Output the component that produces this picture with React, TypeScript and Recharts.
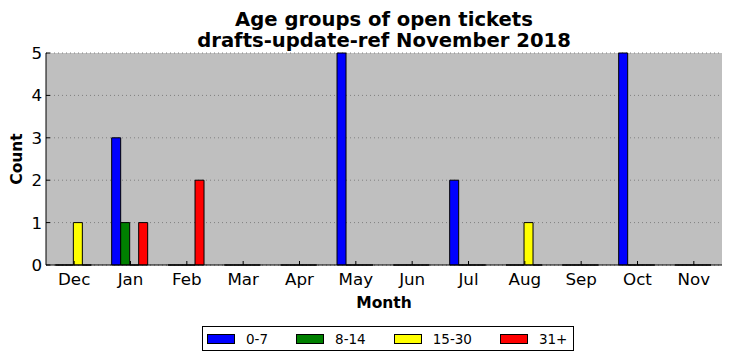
import React from "react";
import {
  BarChart,
  Bar,
  XAxis,
  YAxis,
  CartesianGrid,
  Label,
} from "recharts";

const months = ["Dec", "Jan", "Feb", "Mar", "Apr", "May", "Jun", "Jul", "Aug", "Sep", "Oct", "Nov"];
const age0to7 = [0, 3, 0, 0, 0, 5, 0, 2, 0, 0, 5, 0];
const age8to14 = [0, 1, 0, 0, 0, 0, 0, 0, 0, 0, 0, 0];
const age15to30 = [1, 0, 0, 0, 0, 0, 0, 0, 1, 0, 0, 0];
const age31plus = [0, 1, 2, 0, 0, 0, 0, 0, 0, 0, 0, 0];
const yTicks = [0, 1, 2, 3, 4, 5];

const series = [
  { key: "a", name: "0-7", color: "#0000ff", values: age0to7 },
  { key: "b", name: "8-14", color: "#008000", values: age8to14 },
  { key: "c", name: "15-30", color: "#ffff00", values: age15to30 },
  { key: "d", name: "31+", color: "#ff0000", values: age31plus },
];

const data = months.map((m, i) => {
  const row: Record<string, string | number> = { month: m };
  series.forEach((s) => (row[s.key] = s.values[i]));
  return row;
});

const FONT = "'DejaVu Sans', sans-serif";

// bars with black edge, zero-height ones still show as a flat line
const BarShape = (p: any) => {
  const { x, y, width, height, fill } = p;
  if (x == null || y == null) return null;
  const h = Math.max(height || 0, 0);
  return (
    <path
      d={`M${x},${y}h${width}v${h}h${-width}Z`}
      fill={fill}
      stroke="#000"
      strokeWidth={1}
    />
  );
};

const BottomTick = ({ x, y, payload }: any) => (
  <g>
    <line x1={x} y1={y} x2={x} y2={y - 4} stroke="#000" />
    <text x={x} y={y + 20} textAnchor="middle" fontSize={16.7} fontFamily={FONT} fill="#000">
      {payload.value}
    </text>
  </g>
);

const TopTick = ({ x, y }: any) => <line x1={x} y1={y} x2={x} y2={y + 4} stroke="#000" />;

const LeftTick = ({ x, y, payload }: any) => (
  <g>
    <line x1={x} y1={y} x2={x + 4} y2={y} stroke="#000" />
    <text x={x - 4} y={y + 6} textAnchor="end" fontSize={16.7} fontFamily={FONT} fill="#000">
      {payload.value}
    </text>
  </g>
);

const RightTick = ({ x, y }: any) => <line x1={x} y1={y} x2={x - 4} y2={y} stroke="#000" />;

export default function App() {
  return (
    <div style={{ position: "absolute", left: 0, top: 0, width: 732, height: 361, background: "#fff" }}>
      <div
        style={{
          position: "absolute",
          left: 46,
          top: 9,
          width: 676,
          textAlign: "center",
          fontFamily: FONT,
          fontWeight: "bold",
          fontSize: 19.6,
          lineHeight: "21px",
          color: "#000",
        }}
      >
        Age groups of open tickets
        <br />
        drafts-update-ref November 2018
      </div>
      <BarChart
        width={732}
        height={361}
        data={data}
        margin={{ top: 53, right: 10, left: 0, bottom: 0 }}
        barCategoryGap="16.6%"
        barGap={0}
      >
        <CartesianGrid
          vertical={false}
          fill="#bfbfbf"
          stroke="#808080"
          strokeDasharray="1 3"
        />
        <XAxis
          dataKey="month"
          height={96}
          interval={0}
          tickSize={0}
          tickMargin={0}
          tickLine={false}
          axisLine={{ stroke: "#000" }}
          tick={<BottomTick />}
        >
          <Label
            content={({ viewBox }: any) => (
              <text
                x={viewBox.x + viewBox.width / 2}
                y={viewBox.y + 43}
                textAnchor="middle"
                fontFamily={FONT}
                fontWeight="bold"
                fontSize={15.5}
                fill="#000"
              >
                Month
              </text>
            )}
          />
        </XAxis>
        <XAxis
          xAxisId="top"
          dataKey="month"
          orientation="top"
          height={0}
          interval={0}
          tickSize={0}
          tickMargin={0}
          tickLine={false}
          axisLine={{ stroke: "#000" }}
          tick={<TopTick />}
        />
        <YAxis
          width={46}
          domain={[0, 5]}
          ticks={yTicks}
          tickSize={0}
          tickMargin={0}
          tickLine={false}
          axisLine={{ stroke: "#000" }}
          tick={<LeftTick />}
        >
          <Label
            content={({ viewBox }: any) => {
              const cx = 22;
              const cy = viewBox.y + viewBox.height / 2;
              return (
                <text
                  x={cx}
                  y={cy}
                  transform={`rotate(-90, ${cx}, ${cy})`}
                  textAnchor="middle"
                  fontFamily={FONT}
                  fontWeight="bold"
                  fontSize={15.5}
                  fill="#000"
                >
                  Count
                </text>
              );
            }}
          />
        </YAxis>
        <YAxis
          yAxisId="right"
          orientation="right"
          width={0}
          domain={[0, 5]}
          ticks={yTicks}
          tickSize={0}
          tickMargin={0}
          tickLine={false}
          axisLine={{ stroke: "#000" }}
          tick={<RightTick />}
        />
        {series.map((s) => (
          <Bar
            key={s.key}
            dataKey={s.key}
            name={s.name}
            fill={s.color}
            isAnimationActive={false}
            shape={<BarShape />}
          />
        ))}
      </BarChart>
      <div
        style={{
          position: "absolute",
          left: 202,
          top: 326,
          height: 23,
          display: "flex",
          alignItems: "center",
          border: "1px solid #000",
          padding: "0 6px 0 4px",
          fontFamily: FONT,
          fontSize: 13.5,
          background: "#fff",
        }}
      >
        {series.map((s, i) => (
          <div
            key={s.key}
            style={{ display: "flex", alignItems: "center", marginRight: i < series.length - 1 ? 28 : 0 }}
          >
            <div
              style={{
                width: 26,
                height: 8,
                background: s.color,
                border: "1px solid #000",
                marginRight: 11,
              }}
            />
            <span>{s.name}</span>
          </div>
        ))}
      </div>
    </div>
  );
}
